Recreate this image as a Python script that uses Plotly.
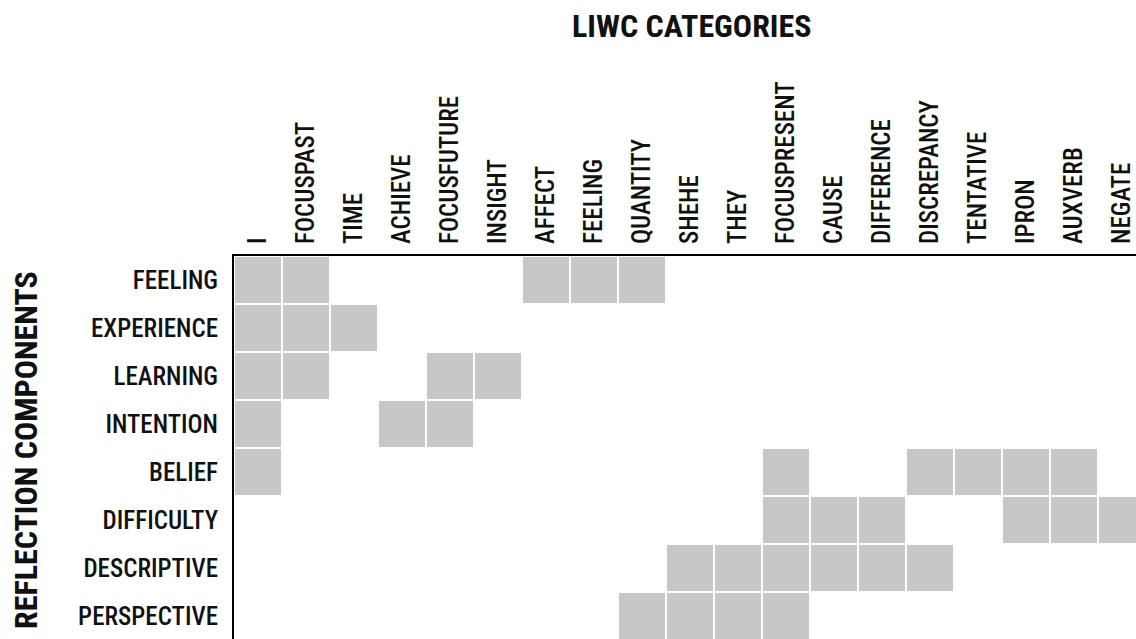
import plotly.graph_objects as go

categories = ["I", "FOCUSPAST", "TIME", "ACHIEVE", "FOCUSFUTURE", "INSIGHT", "AFFECT",
              "FEELING", "QUANTITY", "SHEHE", "THEY", "FOCUSPRESENT", "CAUSE",
              "DIFFERENCE", "DISCREPANCY", "TENTATIVE", "IPRON", "AUXVERB", "NEGATE"]
components = ["FEELING", "EXPERIENCE", "LEARNING", "INTENTION", "BELIEF",
              "DIFFICULTY", "DESCRIPTIVE", "PERSPECTIVE"]

feeling = ["I", "FOCUSPAST", "AFFECT", "FEELING", "QUANTITY"]
experience = ["I", "FOCUSPAST", "TIME"]
learning = ["I", "FOCUSPAST", "FOCUSFUTURE", "INSIGHT"]
intention = ["I", "ACHIEVE", "FOCUSFUTURE"]
belief = ["I", "FOCUSPRESENT", "DISCREPANCY", "TENTATIVE", "IPRON", "AUXVERB"]
difficulty = ["FOCUSPRESENT", "CAUSE", "DIFFERENCE", "IPRON", "AUXVERB", "NEGATE"]
descriptive = ["SHEHE", "THEY", "FOCUSPRESENT", "CAUSE", "DIFFERENCE", "DISCREPANCY"]
perspective = ["QUANTITY", "SHEHE", "THEY", "FOCUSPRESENT"]

links = [feeling, experience, learning, intention, belief, difficulty, descriptive, perspective]

z = [[1 if c in row else None for c in categories] for row in links]

FONT = "Roboto Condensed, Liberation Sans Narrow, DejaVu Sans Condensed, Roboto, sans-serif"

W, H = 1136, 639
L, T = 234, 256
PW, PH = W - L, H - T  # plot area in px
CELL = 48

fig = go.Figure(go.Heatmap(
    z=z, x=categories, y=components,
    colorscale=[[0, "#c6c6c6"], [1, "#c6c6c6"]],
    showscale=False, xgap=2, ygap=2, hoverinfo="x+y",
))

fig.update_layout(
    width=W, height=H, autosize=False,
    margin=dict(l=L, r=0, t=T, b=0, pad=0),
    paper_bgcolor="white", plot_bgcolor="white",
    font=dict(family=FONT, color="#111111"),
    annotations=[
        dict(text="LIWC CATEGORIES", xref="paper", yref="paper",
             x=(691 - L) / PW, y=1 + (T - 26) / PH,
             xanchor="center", yanchor="middle", showarrow=False,
             font=dict(family=FONT, size=32, weight=700, color="#111111")),
        dict(text="REFLECTION COMPONENTS", xref="paper", yref="paper",
             x=(26 - L) / PW, y=(H - 450) / PH,
             xanchor="center", yanchor="middle", textangle=-90, showarrow=False,
             font=dict(family=FONT, size=32, weight=700, color="#111111")),
    ],
)
fig.update_xaxes(side="top", tickangle=-90, showgrid=False, zeroline=False,
                 range=[-0.5, -0.5 + PW / CELL],
                 showline=True, linecolor="black", linewidth=2, ticks="",
                 ticklabelstandoff=5, tickfont=dict(family=FONT, size=25, weight=500),
                 fixedrange=True)
fig.update_yaxes(range=[-0.5 + PH / CELL, -0.5], showgrid=False, zeroline=False,
                 showline=True, linecolor="black", linewidth=2, ticks="",
                 ticklabelstandoff=9, tickfont=dict(family=FONT, size=25, weight=500),
                 fixedrange=True)

fig.write_html(
    "out.html",
    config={"displayModeBar": False},
    post_script="document.body.style.margin='0';document.body.style.overflow='hidden';",
)
